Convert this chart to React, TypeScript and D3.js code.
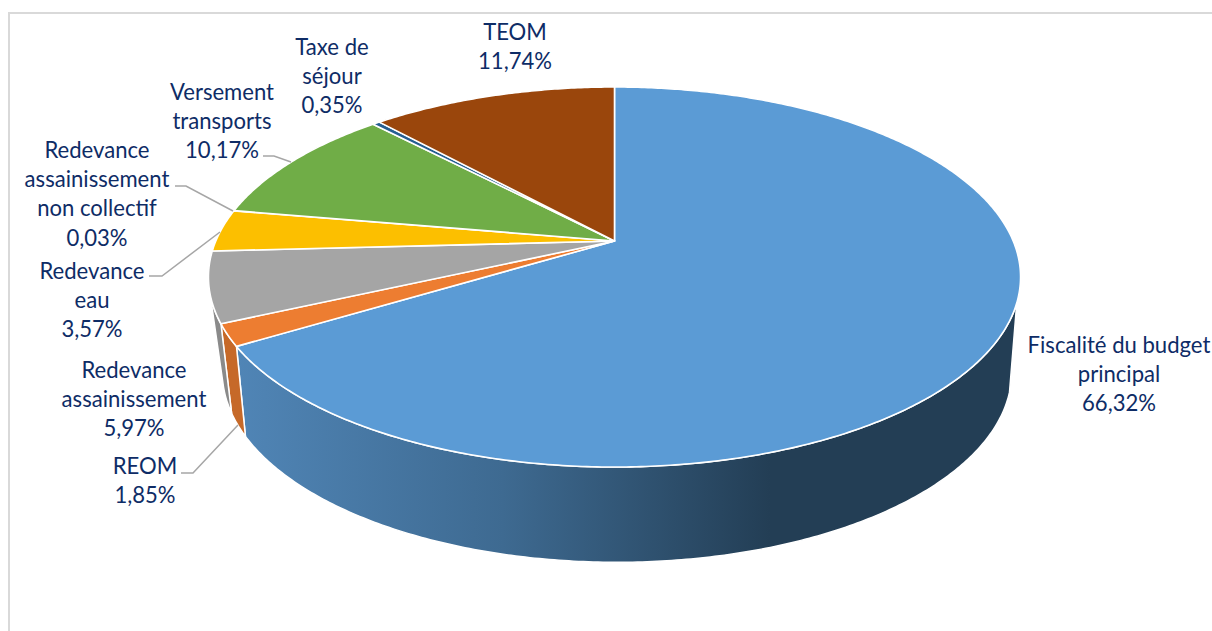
import React from "react";
import * as d3 from "d3";

const categories = [
  "Fiscalité du budget principal",
  "REOM",
  "Redevance assainissement",
  "Redevance eau",
  "Redevance assainissement non collectif",
  "Versement transports",
  "Taxe de séjour",
  "TEOM",
];
const values = [66.32, 1.85, 5.97, 3.57, 0.03, 10.17, 0.35, 11.74];
const valueLabels = ["66,32%", "1,85%", "5,97%", "3,57%", "0,03%", "10,17%", "0,35%", "11,74%"];
const colors = ["#5B9BD5", "#ED7D31", "#A5A5A5", "#FCBF00", "#4472C4", "#70AD47", "#255E91", "#9A460C"];

// layout only
const labelLines = [
  ["Fiscalité du budget", "principal"],
  ["REOM"],
  ["Redevance", "assainissement"],
  ["Redevance", "eau"],
  ["Redevance", "assainissement", "non collectif"],
  ["Versement", "transports"],
  ["Taxe de", "séjour"],
  ["TEOM"],
];
const labelPos: [number, number][] = [
  [1119, 345], [145, 466], [134, 370], [92, 271], [97, 150], [222, 92], [332, 47], [515, 32],
];
const leaders: [number, number][][] = [
  [[263, 156], [274, 156], [291, 162]],
  [[175, 186], [186, 186], [233, 211]],
  [[149, 276], [162, 276], [220, 232]],
  [[181, 473], [193, 473], [238, 425]],
];

const top = { cx: 614.5, y0: 241, A: 183.2, B: 398.7, k: -0.1895 };
const bottom = { cx: 617, y0: 330.5, A: 180.8, B: 385, k: -0.22 };
const SIDE_FROM = (108.5 * Math.PI) / 180;
const SIDE_TO = (254 * Math.PI) / 180;

function project(p: typeof top, t: number): [number, number] {
  const u = Math.sin(t);
  const v = -Math.cos(t);
  const d = 1 + p.k * v;
  return [p.cx + (p.B * u) / d, p.y0 + (p.A * v) / d];
}
function rim(p: typeof top, a: number, b: number): [number, number][] {
  const n = Math.max(2, Math.ceil((b - a) / 0.01));
  return d3.range(n + 1).map((i) => project(p, a + ((b - a) * i) / n));
}

const line = d3.line<[number, number]>();
const pie = d3.pie<number>().sort(null).value((d) => d);

export default function App() {
  const arcs = pie(values);
  return (
    <svg width={1212} height={631} style={{ position: "absolute", left: 0, top: 0, display: "block", background: "#fff" }}>
      <defs>
        <linearGradient id="sideBlue" gradientUnits="userSpaceOnUse" x1={236} x2={770} y1={0} y2={0}>
          <stop offset="0" stopColor="#5085B6" />
          <stop offset="0.5" stopColor="#3E6A91" />
          <stop offset="1" stopColor="#233E55" />
        </linearGradient>
      </defs>
      <path d="M9,640 V13 H1230" fill="none" stroke="#D9D9D9" strokeWidth={2} />

      {arcs.map((a, i) => {
        const s = Math.max(a.startAngle, SIDE_FROM);
        const e = Math.min(a.endAngle, SIDE_TO);
        if (e <= s) return null;
        const pts = [...rim(top, s, e), ...rim(bottom, s, e).reverse()];
        const fill = i === 0 ? "url(#sideBlue)" : d3.color(colors[i])!.darker(0.5).formatHex();
        return <path key={i} d={line(pts)! + "Z"} fill={fill} stroke="#fff" strokeWidth={1.5} strokeLinejoin="round" />;
      })}

      {arcs.map((a, i) => {
        const pts: [number, number][] = [[top.cx, top.y0], ...rim(top, a.startAngle, a.endAngle)];
        return <path key={i} d={line(pts)! + "Z"} fill={colors[i]} stroke="#fff" strokeWidth={a.value < 0.1 ? 0.5 : 1.6} strokeLinejoin="round" />;
      })}

      {leaders.map((l, i) => (
        <path key={i} d={line(l)!} fill="none" stroke="#A6A6A6" strokeWidth={1.5} />
      ))}

      <g fontFamily="Lato, 'Open Sans', sans-serif" fontSize={22.1} fill="#0E2C66" textAnchor="middle">
        {categories.map((c, i) => {
          const lines = [...labelLines[i], valueLabels[i]];
          return (
            <text key={c} aria-label={c}>
              {lines.map((t, j) => (
                <tspan key={j} x={labelPos[i][0]} y={labelPos[i][1] + j * 29.4 + 7.5}>{t}</tspan>
              ))}
            </text>
          );
        })}
      </g>
    </svg>
  );
}
